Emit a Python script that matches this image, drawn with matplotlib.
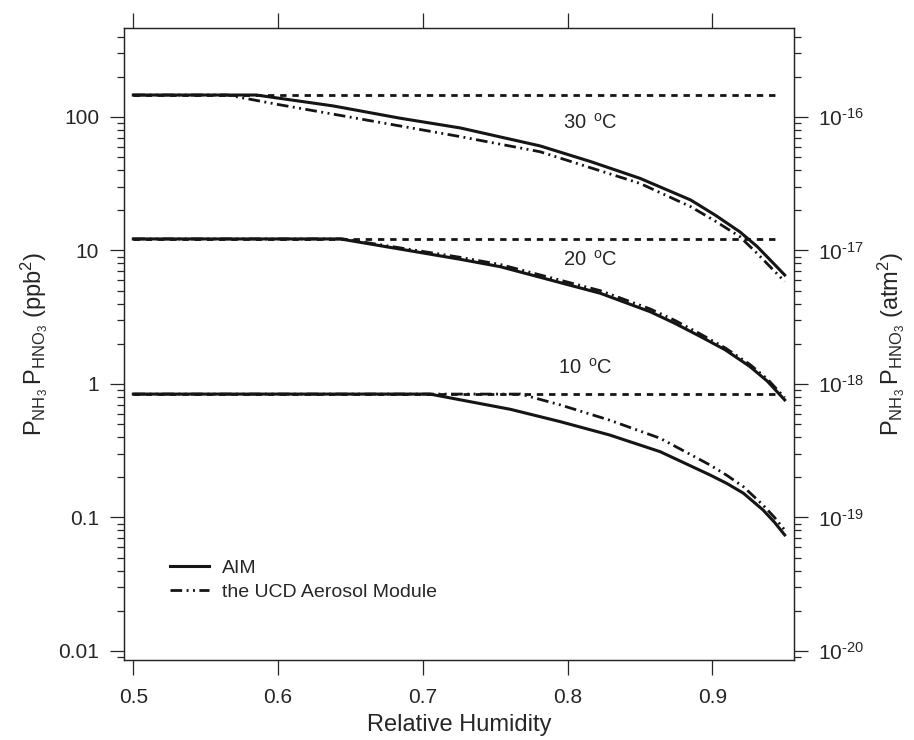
import numpy as np
import matplotlib
matplotlib.use('Agg')
from matplotlib import pyplot as plt
from matplotlib.ticker import LogLocator, FixedLocator, NullFormatter

plt.rcParams['font.family'] = ['Liberation Sans', 'DejaVu Sans']
plt.rcParams['mathtext.fontset'] = 'custom'
plt.rcParams['mathtext.rm'] = 'Liberation Sans'
plt.rcParams['mathtext.default'] = 'regular'

# values (ppb^2)
rh_aim_30 = [0.50, 0.585, 0.638, 0.684, 0.726, 0.781, 0.816, 0.850, 0.885, 0.902, 0.919, 0.931, 0.942, 0.950]
aim_30 = [146, 146, 121, 98, 82.7, 60.7, 46.3, 34.7, 23.9, 18.4, 13.8, 10.7, 8.06, 6.55]
rh_ucd_30 = [0.50, 0.565, 0.600, 0.638, 0.726, 0.781, 0.850, 0.885, 0.902, 0.919, 0.931, 0.942, 0.950]
ucd_30 = [146, 146, 124, 105, 71.2, 54.9, 31.8, 21.3, 16.6, 12.7, 9.5, 7.17, 5.85]

rh_aim_20 = [0.50, 0.643, 0.7255, 0.7535, 0.8226, 0.857, 0.874, 0.892, 0.909, 0.926, 0.938, 0.950]
aim_20 = [12.2, 12.2, 8.6, 7.56, 4.78, 3.48, 2.85, 2.26, 1.80, 1.35, 1.05, 0.76]
rh_ucd_20 = [0.50, 0.645, 0.7255, 0.7535, 0.8226, 0.857, 0.874, 0.892, 0.909, 0.926, 0.938, 0.950]
ucd_20 = [12.2, 12.2, 8.9, 7.85, 5.0, 3.65, 3.0, 2.36, 1.86, 1.40, 1.09, 0.79]

rh_aim_10 = [0.50, 0.705, 0.7605, 0.795, 0.829, 0.864, 0.8985, 0.910, 0.9215, 0.935, 0.943, 0.950]
aim_10 = [0.84, 0.84, 0.646, 0.522, 0.415, 0.311, 0.208, 0.180, 0.152, 0.114, 0.092, 0.074]
rh_ucd_10 = [0.50, 0.7675, 0.795, 0.829, 0.864, 0.8985, 0.910, 0.9215, 0.935, 0.943, 0.950]
ucd_10 = [0.84, 0.84, 0.697, 0.536, 0.392, 0.247, 0.207, 0.170, 0.124, 0.100, 0.0806]

# dashed reference levels
rh_flat = [0.50, 0.944]
flat_levels = [146, 12.2, 0.84]

temp_labels = ['30 $^{\\,o}$C', '20 $^{\\,o}$C', '10 $^{\\,o}$C']
temp_pos = [(0.816, 90), (0.8155, 8.6), (0.8125, 1.32)]

right_ticks = [1e-20, 1e-19, 1e-18, 1e-17, 1e-16]
right_labels = ['$10^{\\text{-20}}$', '$10^{\\text{-19}}$', '$10^{\\text{-18}}$',
                '$10^{\\text{-17}}$', '$10^{\\text{-16}}$']

ink = '#151515'
txt = '#262626'
ucd_dash = (4.2, 1.6, 0.7, 1.6, 0.7, 1.6)

fig = plt.figure(figsize=(9.14, 7.40), dpi=100)
ax = fig.add_axes([0.1357, 0.1081, 0.733, 0.8541])

for lev in flat_levels:
    ax.plot(rh_flat, [lev, lev], color=ink, lw=2.0, dashes=(2.3, 2.1))

ax.plot(rh_ucd_30, ucd_30, color=ink, lw=2.0, dashes=ucd_dash)
ax.plot(rh_ucd_20, ucd_20, color=ink, lw=2.0, dashes=ucd_dash)
ax.plot(rh_ucd_10, ucd_10, color=ink, lw=2.0, dashes=ucd_dash, label='the UCD Aerosol Module')
ax.plot(rh_aim_30, aim_30, color=ink, lw=2.2)
ax.plot(rh_aim_20, aim_20, color=ink, lw=2.2)
ax.plot(rh_aim_10, aim_10, color=ink, lw=2.2, label='AIM')

for lab, (xx, yy) in zip(temp_labels, temp_pos):
    ax.text(xx, yy, lab, ha='center', va='center', fontsize=14.5, color=txt)

ax.set_yscale('log')
ax.set_xlim(0.49358, 0.95644)
ax.set_ylim(0.00856, 464)
ax.set_xticks([0.5, 0.6, 0.7, 0.8, 0.9])
ax.set_xticklabels(['0.5', '0.6', '0.7', '0.8', '0.9'])
ax.set_yticks([0.01, 0.1, 1, 10, 100])
ax.set_yticklabels(['0.01', '0.1', '1', '10', '100'])
ax.yaxis.set_minor_locator(LogLocator(base=10, subs=np.arange(2, 10)))
ax.yaxis.set_minor_formatter(NullFormatter())

ax.tick_params(axis='x', which='major', direction='out', length=11, width=0.9,
               top=True, labeltop=False, labelsize=15, colors=txt, pad=9)
ax.tick_params(axis='y', which='major', direction='out', length=10, width=0.9,
               labelsize=15, colors=txt, pad=8)
ax.tick_params(axis='y', which='minor', direction='out', length=5, width=0.9, colors=txt)
for s in ax.spines.values():
    s.set_linewidth(0.9)
    s.set_color(txt)

ax.set_xlabel('Relative Humidity', fontsize=17, color=txt, labelpad=5)
ax.set_ylabel('$P_{NH_3}\\,P_{HNO_3}\\;(ppb^2)$', fontsize=17, color=txt, labelpad=6)

# right axis in atm^2 (1 ppb^2 = 1e-18 atm^2)
ax2 = ax.twinx()
ax2.set_yscale('log')
ax2.set_ylim(0.00856e-18, 464e-18)
ax2.yaxis.set_major_locator(FixedLocator(right_ticks))
ax2.set_yticklabels(right_labels)
ax2.yaxis.set_minor_locator(LogLocator(base=10, subs=np.arange(2, 10)))
ax2.yaxis.set_minor_formatter(NullFormatter())
ax2.tick_params(axis='y', which='major', direction='out', length=10, width=0.9,
                labelsize=15, colors=txt, pad=7)
ax2.tick_params(axis='y', which='minor', direction='out', length=5, width=0.9, colors=txt)
ax2.set_ylabel('$P_{NH_3}\\,P_{HNO_3}\\;(atm^2)$', fontsize=17, color=txt, labelpad=8)
for s in ax2.spines.values():
    s.set_linewidth(0.9)
    s.set_color(txt)

handles, labels = ax.get_legend_handles_labels()
ax.legend(handles[::-1], labels[::-1], loc='center left', bbox_to_anchor=(0.0687, 0.1265),
          frameon=False, fontsize=14, handlelength=2.0, handletextpad=0.65,
          labelspacing=0.35, borderpad=0, borderaxespad=0, labelcolor=txt)

fig.savefig('out.png', dpi=100)
